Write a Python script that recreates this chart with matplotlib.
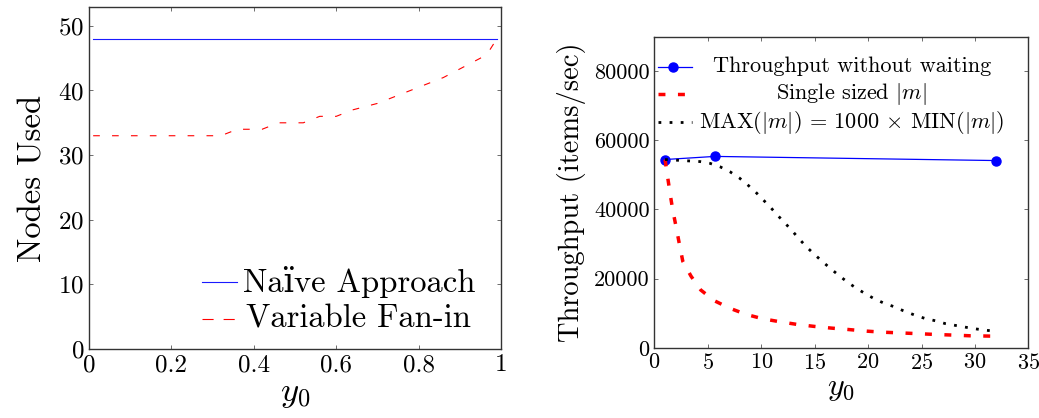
import matplotlib
matplotlib.use("Agg")
import matplotlib.pyplot as plt
from matplotlib.lines import Line2D

plt.rcParams["font.family"] = ["cmr10", "DejaVu Serif"]
plt.rcParams["mathtext.fontset"] = "cm"
plt.rcParams["axes.formatter.use_mathtext"] = True
plt.rcParams["axes.unicode_minus"] = False

# left panel: nodes used vs y0
naive_x = [0.01, 0.99]
naive_y = [48, 48]
fan_x = [0.01, 0.1, 0.2, 0.32, 0.36, 0.42, 0.46, 0.52, 0.56, 0.6, 0.64, 0.7,
         0.74, 0.78, 0.82, 0.86, 0.89, 0.92, 0.95, 0.97, 0.99]
fan_y = [33, 33, 33, 33, 34, 34, 35, 35, 36, 36, 37, 38,
         39, 40, 41, 42, 43, 44, 45, 46, 48]

# right panel: throughput vs y0
nowait_x = [1, 5.66, 32]
nowait_y = [54400, 55300, 54100]
single_x = [1, 1.47, 1.72, 2.03, 2.34, 2.66, 3.43, 4.34, 5.61, 7.08, 8.58,
            10.14, 11.76, 13.33, 14.95, 16.54, 18.0, 19.9, 21.4, 23, 24.5,
            26.3, 28, 29.5, 31.5]
single_y = [54400, 44600, 39800, 35000, 30000, 25000, 20700, 16700, 13600,
            11400, 9650, 8380, 7510, 6760, 6180, 5690, 5320, 4800, 4500, 4300,
            4100, 3850, 3660, 3470, 3370]
ratio_x = [1, 2.1, 4.3, 5.21, 6.15, 7.08, 7.93, 8.68, 9.45, 10.14, 10.82,
           11.51, 12.2, 12.89, 13.54, 14.22, 14.95, 15.7, 16.47, 17.26, 18.03,
           18.8, 19.7, 20.5, 21.4, 22.4, 23.3, 24.4, 25.3, 26.3, 27.2, 28.1,
           29.2, 30.2, 31.5]
ratio_y = [54400, 54200, 53800, 53290, 52300, 50860, 49130, 47220, 45080,
           42880, 40750, 38350, 36120, 33810, 31500, 29190, 27080, 24970,
           22940, 20920, 19070, 17400, 15700, 14300, 13000, 11900, 10700,
           9400, 8500, 7800, 7000, 6500, 5900, 5400, 4900]

fig = plt.figure(figsize=(10.39, 4.18), dpi=100)
ax1 = fig.add_axes([0.0857, 0.165, 0.3965, 0.818])
ax2 = fig.add_axes([0.6298, 0.168, 0.36, 0.7426])

for ax in (ax1, ax2):
    ax.tick_params(direction="in", length=3, width=0.6, top=True, right=True,
                   color="#555555")
    for s in ax.spines.values():
        s.set_linewidth(1.0)
        s.set_color("#333333")

red_thin = (0, (6, 11))
red_thick = (0, (2, 3.6))
black_dots = (0, (1, 3))

# --- left ---
ax1.plot(naive_x, naive_y, color="#1a1aff", lw=0.8)
ax1.plot(fan_x, fan_y, color="#ff0000", lw=0.8, linestyle=red_thin)
ax1.set_xlim(0, 1)
ax1.set_ylim(0, 52.9)
ax1.set_xticks([0, 0.2, 0.4, 0.6, 0.8, 1])
ax1.set_xticklabels(["0", "0.2", "0.4", "0.6", "0.8", "1"])
ax1.set_yticks([0, 10, 20, 30, 40, 50])
ax1.tick_params(labelsize=18)
ax1.set_ylabel("Nodes Used", fontsize=23.5, labelpad=8)
ax1.set_xlabel("$y_0$", fontsize=25, labelpad=2)

leg1 = [("Na\u00efve Approach", dict(color="#1a1aff", lw=0.8)),
        ("Variable Fan-in", dict(color="#ff0000", lw=0.8, linestyle=(0, (10, 9))))]
for i, (lab, kw) in enumerate(leg1):
    yy = 0.195 - i * 0.108
    ax1.add_line(Line2D([0.275, 0.36], [yy, yy], transform=ax1.transAxes, **kw))
    ax1.text(0.655, yy, lab, transform=ax1.transAxes, ha="center", va="center",
             fontsize=23.5)

# --- right ---
ax2.plot(nowait_x, nowait_y, color="#0000ff", lw=0.9, marker="o", ms=6.5)
ax2.plot(single_x, single_y, color="#ff0000", lw=2.5, linestyle=red_thick)
ax2.plot(ratio_x, ratio_y, color="black", lw=2, linestyle=black_dots)
ax2.set_xlim(0, 35)
ax2.set_ylim(0, 89700)
ax2.set_xticks([0, 5, 10, 15, 20, 25, 30, 35])
ax2.set_yticks([0, 20000, 40000, 60000, 80000])
ax2.set_yticklabels(["0", "20000", "40000", "60000", "80000"])
ax2.tick_params(labelsize=16)
ax2.set_ylabel("Throughput (items/sec)", fontsize=20.5, labelpad=6)
ax2.set_xlabel("$y_0$", fontsize=23, labelpad=2)

leg2 = [("Throughput without waiting", dict(color="#0000ff", lw=0.9, marker="o", ms=6.5, markevery=[1])),
        ("Single sized $|m|$", dict(color="#ff0000", lw=2.5, linestyle=red_thick)),
        (r"MAX$(|m|)$ = 1000 $\times$ MIN$(|m|)$", dict(color="black", lw=2, linestyle=black_dots))]
for i, (lab, kw) in enumerate(leg2):
    yy = 0.906 - i * 0.09
    ax2.add_line(Line2D([0.01, 0.05, 0.1], [yy, yy, yy], transform=ax2.transAxes, **kw))
    ax2.text(0.528, yy, lab, transform=ax2.transAxes, ha="center", va="center",
             fontsize=16)

fig.savefig("out.png", dpi=100)
